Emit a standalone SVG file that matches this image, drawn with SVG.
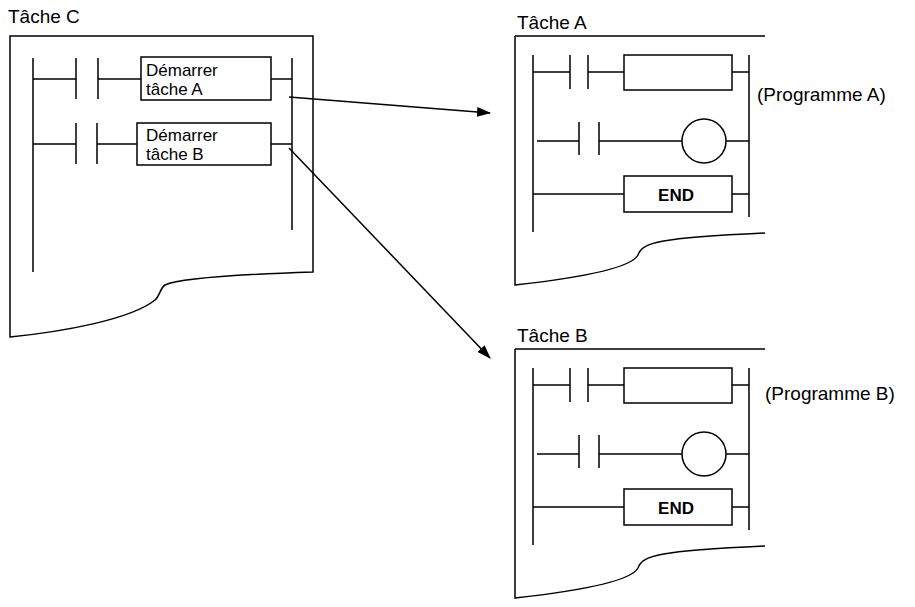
<svg xmlns="http://www.w3.org/2000/svg" width="915" height="607" viewBox="0 0 915 607">
<style>
.l{fill:none;stroke:#000;stroke-width:1.5}
.t{font-family:"Liberation Sans",Arial,sans-serif;fill:#000}
.h{font-size:19px}.b{font-size:17px}.e{font-size:17px;font-weight:bold}
</style>
<defs><marker id="ar" markerWidth="14" markerHeight="10" refX="13" refY="5" orient="auto" markerUnits="userSpaceOnUse"><path d="M0,0 L14,5 L0,10 z" fill="#000"/></marker>
<g id="prog">
<path class="l" d="M515,36 H765 M515,36 V285 C560,280 630,270 638,255 C642,242 660,238 765,233"/>
<path class="l" d="M533,55 V232 M749,55 V217"/>
<path class="l" d="M533,72 H570 M570,55 V89 M588,55 V89 M588,72 H624 M732,72 H749"/>
<rect class="l" x="624" y="55" width="108" height="35"/>
<path class="l" d="M537,141 H579 M579,122 V155 M599,122 V155 M599,141 H682 M726,141 H749"/>
<circle class="l" cx="704" cy="141" r="22"/>
<path class="l" d="M533,194 H624 M732,194 H749"/>
<rect class="l" x="624" y="176" width="108" height="36"/>
<text class="t e" x="676" y="201" text-anchor="middle">END</text>
</g></defs>
<g id="taskC">
<text class="t h" x="8" y="23">Tâche C</text>
<path class="l" d="M10,36 H313 V272 C250,274 180,278 165,285 C160,288 160,296 155,300 C130,320 60,332 10,337 Z"/>
<path class="l" d="M33,58 V272 M292,58 V230"/>
<path class="l" d="M33,79 H76 M76,58 V99 M98,58 V99 M98,79 H141 M271,79 H292"/>
<rect class="l" x="141" y="57" width="130" height="43"/>
<text class="t b" x="146" y="76">Démarrer</text><text class="t b" x="146" y="95">tâche A</text>
<path class="l" d="M33,144 H76 M76,123 V164 M97,123 V164 M97,144 H137 M271,144 H292"/>
<rect class="l" x="137" y="123" width="134" height="42"/>
<text class="t b" x="146" y="141">Démarrer</text><text class="t b" x="146" y="160">tâche B</text>
</g>
<g id="taskA">
<text class="t h" x="517" y="29">Tâche A</text>
<use href="#prog"/>
<text class="t h" x="757" y="101">(Programme A)</text>
</g>
<g id="taskB">
<text class="t h" x="517" y="342">Tâche B</text>
<use href="#prog" transform="translate(0,313)"/>
<text class="t h" x="765" y="400">(Programme B)</text>
</g>
<g id="connectors">
<path class="l" stroke-width="2" d="M289,97 L490,113" marker-end="url(#ar)"/>
<path class="l" stroke-width="2" d="M289,148 L490,358" marker-end="url(#ar)"/>
</g>
</svg>
